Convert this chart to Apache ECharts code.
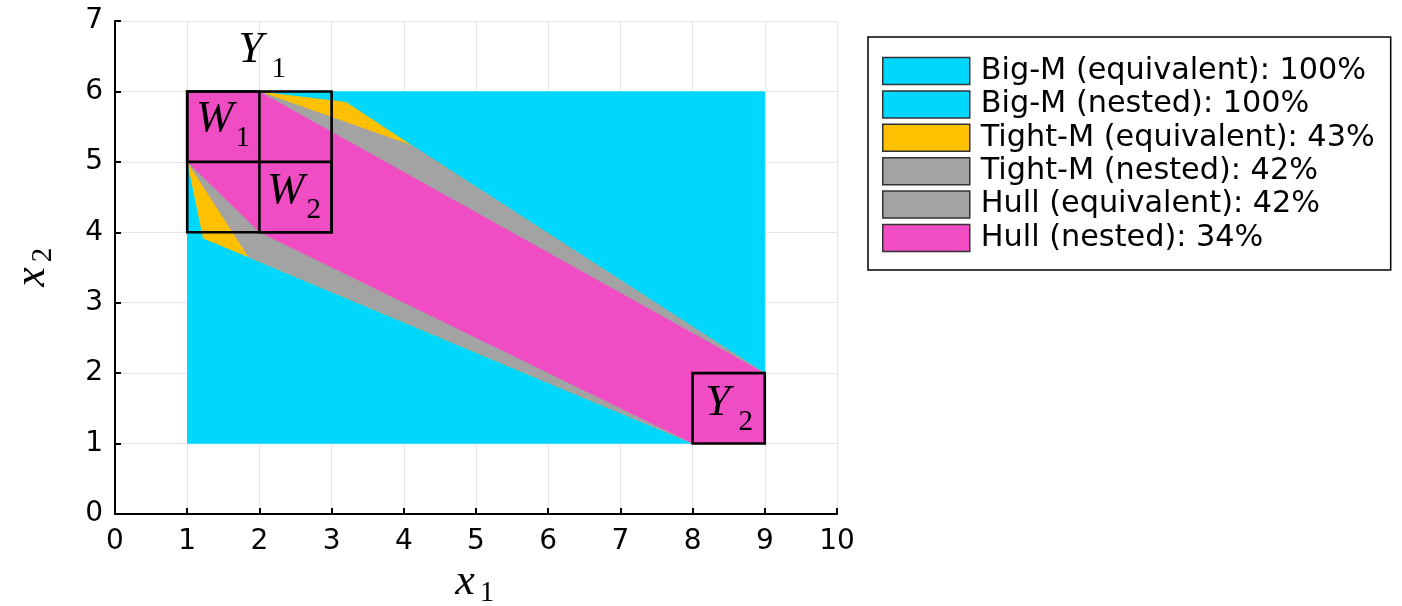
<!DOCTYPE html>
<html><head><meta charset="utf-8">
<script src="https://cdn.jsdelivr.net/npm/echarts@6/dist/echarts.min.js"></script>
<style>html,body{margin:0;padding:0;background:#fff}#c{width:1402px;height:606px}</style>
</head><body><div id="c"></div>
<script>
// ---- data ----
const xTicks = [0,1,2,3,4,5,6,7,8,9,10];
const yTicks = [0,1,2,3,4,5,6,7];
const seriesNames = [
  'Big-M (equivalent): 100%',
  'Big-M (nested): 100%',
  'Tight-M (equivalent): 43%',
  'Tight-M (nested): 42%',
  'Hull (equivalent): 42%',
  'Hull (nested): 34%'
];
const bigMEquivalent = [[1,1],[9,1],[9,6],[1,6]];
const bigMNested = [[1,1],[9,1],[9,6],[1,6]];
const tightMEquivalent = [[1,6],[2,6],[3.2,5.85],[4.12,5.23],[9,2],[9,1],[8,1],[1.84,3.65],[1.22,3.91],[1,5]];
const tightMNested = [[1,6],[2,6],[4.12,5.23],[9,2],[9,1],[8,1],[1.85,3.65],[1,5]];
const hullEquivalent = [[1,6],[2,6],[4.12,5.23],[9,2],[9,1],[8,1],[1.85,3.65],[1,5]];
const hullNested = [[1,6],[2,6],[9,2],[9,1],[8,1],[2,4],[1,5]];
const boxes = [[1,4,3,6],[1,5,2,6],[2,4,3,5],[8,1,9,2]];
const boxLabels = [
  {main:'Y', sub:'1', x:1.88, y:6.58},
  {main:'W', sub:'1', x:1.383, y:5.60},
  {main:'W', sub:'2', x:2.365, y:4.58},
  {main:'Y', sub:'2', x:8.35, y:1.57}
];
const polys = [bigMEquivalent, bigMNested, tightMEquivalent, tightMNested, hullEquivalent, hullNested];
const colors = ['#00D7FF','#00D7FF','#FFC000','#A3A3A3','#A3A3A3','#F04DC4'];

// ---- chart ----
const mathFont = '"Liberation Serif", "DejaVu Serif", serif';
const chart = echarts.init(document.getElementById('c'), null, {renderer:'canvas'});

function polySeries(i){
  const pts = polys[i];
  return {
    type:'custom', name:seriesNames[i], coordinateSystem:'cartesian2d',
    data: pts, encode:{x:0,y:1}, silent:true, z:2+i,
    itemStyle:{color:colors[i], borderColor:'#333', borderWidth:1.2},
    renderItem:function(params, api){
      if(params.dataIndex!==0) return null;
      return {type:'polygon', shape:{points: pts.map(p=>api.coord(p))}, style:{fill:colors[i], stroke:null}};
    }
  };
}

const series = polys.map((_,i)=>polySeries(i));
series.push({
  type:'custom', name:'boxes', coordinateSystem:'cartesian2d', silent:true, z:20,
  data: boxes, encode:{x:[0,2], y:[1,3]},
  renderItem:function(params, api){
    const a = api.coord([api.value(0), api.value(1)]);
    const b = api.coord([api.value(2), api.value(3)]);
    return {type:'rect', shape:{x:Math.min(a[0],b[0]), y:Math.min(a[1],b[1]), width:Math.abs(b[0]-a[0]), height:Math.abs(b[1]-a[1])},
      style:{fill:null, stroke:'#000', lineWidth:2.6}};
  }
});
series.push({
  type:'custom', name:'labels', coordinateSystem:'cartesian2d', silent:true, z:25,
  data: boxLabels.map(l=>[l.x,l.y]), encode:{x:0,y:1},
  renderItem:function(params, api){
    const l = boxLabels[params.dataIndex];
    const c = api.coord([l.x,l.y]);
    return {type:'group', children:[
      {type:'text', x:c[0], y:c[1], style:{text:l.main, font:'italic 45px '+mathFont, fill:'#000', align:'center', verticalAlign:'middle'}},
      {type:'text', x:c[0]+28, y:c[1]+19, style:{text:l.sub, font:'29px '+mathFont, fill:'#000', align:'center', verticalAlign:'middle'}}
    ]};
  }
});

const axisCommon = {
  axisLine:{show:true, onZero:false, lineStyle:{color:'#000', width:2}},
  axisTick:{show:true, inside:true, length:6, lineStyle:{color:'#000', width:2}},
  splitLine:{show:true, lineStyle:{color:'#e6e6e6', width:1}},
  axisLabel:{color:'#000', fontFamily:'DejaVu Sans', fontSize:28}
};

chart.setOption({
  animation:false,
  backgroundColor:'#fff',
  grid:{left:115, top:21, width:722, height:493, containLabel:false},
  xAxis:Object.assign({type:'value', min:xTicks[0], max:xTicks[xTicks.length-1], interval:1}, axisCommon,
    {axisLabel:Object.assign({}, axisCommon.axisLabel, {margin:14})}),
  yAxis:Object.assign({type:'value', min:yTicks[0], max:yTicks[yTicks.length-1], interval:1}, axisCommon,
    {axisLabel:Object.assign({}, axisCommon.axisLabel, {margin:12})}),
  legend:{
    orient:'vertical', left:868, top:37,
    data: seriesNames.map(n=>({name:n, icon:'rect'})),
    itemWidth:87, itemHeight:27, itemGap:3.4,
    padding:[19,16,17,14],
    borderColor:'#000', borderWidth:1.5, backgroundColor:'#fff',
    selectedMode:false,
    textStyle:{color:'#000', fontFamily:'DejaVu Sans', fontSize:30.3, lineHeight:27, padding:[0,0,0,6]},
    itemStyle:{borderColor:'#333', borderWidth:1.5}
  },
  graphic:[
    {type:'text', x:465, y:582, style:{text:'x', font:'italic 44px '+mathFont, fill:'#000', align:'center', verticalAlign:'middle'}},
    {type:'text', x:487, y:593, style:{text:'1', font:'29px '+mathFont, fill:'#000', align:'center', verticalAlign:'middle'}},
    {type:'text', x:32, y:277, rotation:Math.PI/2, style:{text:'x', font:'italic 44px '+mathFont, fill:'#000', align:'center', verticalAlign:'middle'}},
    {type:'text', x:43, y:255, rotation:Math.PI/2, style:{text:'2', font:'29px '+mathFont, fill:'#000', align:'center', verticalAlign:'middle'}}
  ],
  series: series
});
</script></body></html>
